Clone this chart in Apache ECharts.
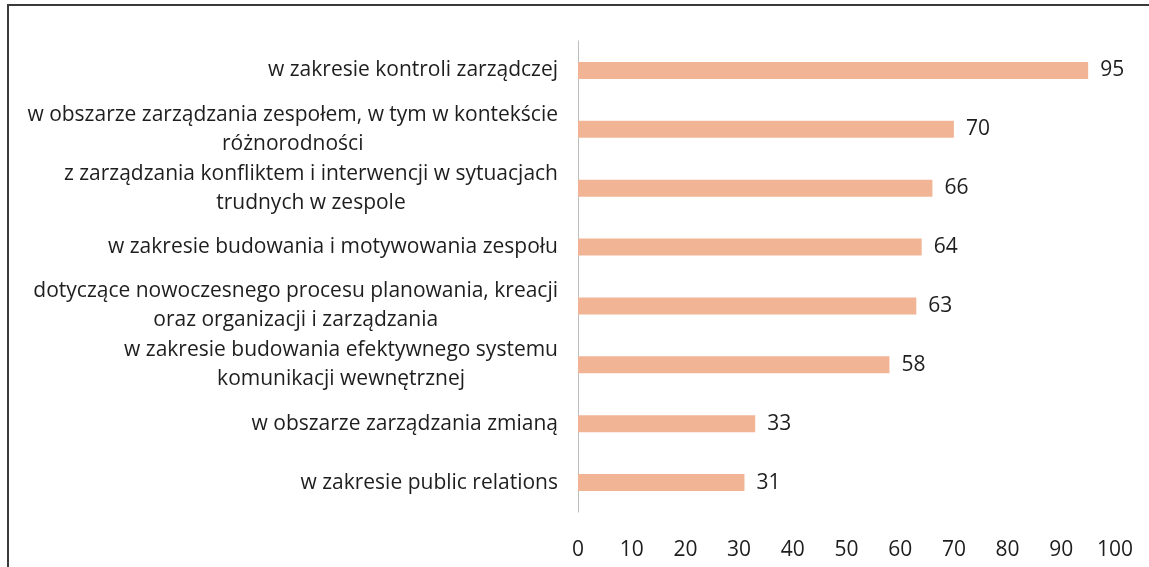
<!DOCTYPE html>
<html lang="pl">
<head>
    <meta charset="UTF-8">
    <title>Szkolenia</title>
    <style>
        html, body { margin: 0; padding: 0; background: #fff; }
        #main { width: 1149px; height: 567px; }
    </style>
</head>
<body>
<div id="main"></div>
<script src="https://cdn.jsdelivr.net/npm/echarts@6/dist/echarts.min.js"></script>
<script type="text/javascript">
    var categories = [
        'w zakresie kontroli zarządczej',
        'w obszarze zarządzania zespołem, w tym w kontekście\nróżnorodności',
        'z zarządzania konfliktem i interwencji w sytuacjach\ntrudnych w zespole',
        'w zakresie budowania i motywowania zespołu',
        'dotyczące nowoczesnego procesu planowania, kreacji\noraz organizacji i zarządzania',
        'w zakresie budowania efektywnego systemu\nkomunikacji wewnętrznej',
        'w obszarze zarządzania zmianą',
        'w zakresie public relations'
    ];
    var values = [95, 70, 66, 64, 63, 58, 33, 31];
    var xTicks = [0, 10, 20, 30, 40, 50, 60, 70, 80, 90, 100];

    var fontName = '"Open Sans", sans-serif';
    var chart = echarts.init(document.getElementById('main'));

    var option = {
        backgroundColor: '#fff',
        animation: false,
        graphic: [{
            type: 'rect',
            shape: {x: 8, y: 5, width: 1160, height: 600},
            style: {fill: 'none', stroke: '#3a3a3a', lineWidth: 2}
        }],
        grid: {left: 578, right: 34, top: 41, bottom: 55},
        xAxis: {
            type: 'value',
            min: xTicks[0],
            max: xTicks[xTicks.length - 1],
            interval: 10,
            axisLine: {show: false},
            axisTick: {show: false},
            splitLine: {show: false},
            axisLabel: {
                color: '#1e1e1e',
                fontSize: 21,
                fontFamily: fontName,
                margin: 28
            }
        },
        yAxis: {
            type: 'category',
            inverse: true,
            data: categories,
            axisLine: {show: true, lineStyle: {color: '#bdbdbd', width: 1}},
            axisTick: {show: false},
            axisLabel: {
                margin: 20,
                formatter: function (v) {
                    return v.split('\n').map(function (s) { return '{c|' + s + '}'; }).join('\n');
                },
                rich: {
                    c: {
                        align: 'center',
                        color: '#1e1e1e',
                        fontSize: 21,
                        fontFamily: fontName,
                        lineHeight: 29
                    }
                }
            }
        },
        series: [{
            type: 'bar',
            data: values,
            barWidth: 17,
            itemStyle: {color: '#f1b596'},
            label: {
                show: true,
                position: 'right',
                distance: 12,
                color: '#1e1e1e',
                fontSize: 21,
                fontFamily: fontName
            }
        }]
    };
    chart.setOption(option);
</script>
</body>
</html>
